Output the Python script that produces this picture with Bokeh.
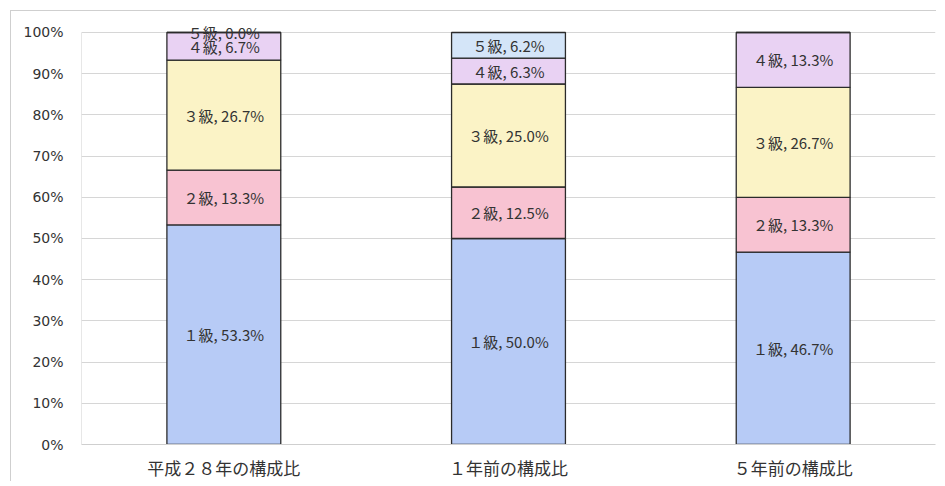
from bokeh.core.properties import value
from bokeh.embed import file_html
from bokeh.models import ColumnDataSource, FactorRange, FixedTicker, LabelSet, Range1d, NumeralTickFormatter
from bokeh.plotting import figure
from bokeh.resources import INLINE

# chart data
categories = ["平成２８年の構成比", "１年前の構成比", "５年前の構成比"]
grades = ["１級", "２級", "３級", "４級", "５級"]
kyu1 = [53.3, 50.0, 46.7]
kyu2 = [13.3, 12.5, 13.3]
kyu3 = [26.7, 25.0, 26.7]
kyu4 = [6.7, 6.3, 13.3]
kyu5 = [0.0, 6.2, None]
colors = ["#b7cbf6", "#f8c3d2", "#fbf3c6", "#e9d2f3", "#d4e5f8"]

series = [kyu1, kyu2, kyu3, kyu4, kyu5]

data = {"cat": categories}
for g, s in zip(grades, series):
    data[g] = [(v or 0) / 100 for v in s]
source = ColumnDataSource(data)

# a little head room above 100% so the top label is not clipped
p = figure(width=926, height=471, x_range=FactorRange(*categories), y_range=Range1d(0, 1.0485),
           output_backend="svg", toolbar_location=None,
           min_border_left=70, min_border_right=2, min_border_top=1, min_border_bottom=30)
p.margin = (10, 0, 0, 10)
p.styles = {"border-left": "1px solid #cfcfcf", "border-top": "1px solid #cfcfcf"}
p.outline_line_color = None

# y axis line only from 0% to 100%
p.segment(x0=[(categories[0], -0.5)], y0=[0], x1=[(categories[0], -0.5)], y1=[1],
          line_color="#cfcfcf", line_width=1)

p.vbar_stack(grades, x="cat", width=0.4, source=source, fill_color=colors,
             line_color="#2b2b2b", line_width=1.3)

# segment labels at the middle of each piece
lx, ly, lt = [], [], []
for i, c in enumerate(categories):
    base = 0.0
    for g, s in zip(grades, series):
        v = s[i]
        if v is None:
            continue
        lx.append(c)
        ly.append((base + v / 2) / 100)
        lt.append(f"{g}, {v:.1f}%")
        base += v
labels = LabelSet(x="x", y="y", text="t", source=ColumnDataSource(dict(x=lx, y=ly, t=lt)),
                  text_align="center", text_baseline="middle",
                  text_font=value("Noto Sans CJK JP"), text_font_size=value("15px"),
                  text_color="#333333")
p.add_layout(labels)

p.yaxis.ticker = FixedTicker(ticks=[i / 10 for i in range(11)])
p.yaxis.formatter = NumeralTickFormatter(format="0%")

for ax in (p.xaxis, p.yaxis):
    ax.major_tick_line_color = None
    ax.minor_tick_line_color = None
    ax.major_tick_out = 0
    ax.major_tick_in = 0
    ax.major_label_text_color = "#333333"
p.xaxis.axis_line_color = "#cfcfcf"
p.yaxis.axis_line_color = None
p.yaxis.major_label_text_font = "DejaVu Sans"
p.yaxis.major_label_text_font_size = "14px"
p.yaxis.major_label_standoff = 18
p.xaxis.major_label_text_font = "Noto Sans CJK JP"
p.xaxis.major_label_text_font_size = "17px"
p.xaxis.major_label_standoff = 10

p.xgrid.grid_line_color = None
p.ygrid.grid_line_color = "#d6d6d6"

open("out.html", "w").write(file_html(p, INLINE))
